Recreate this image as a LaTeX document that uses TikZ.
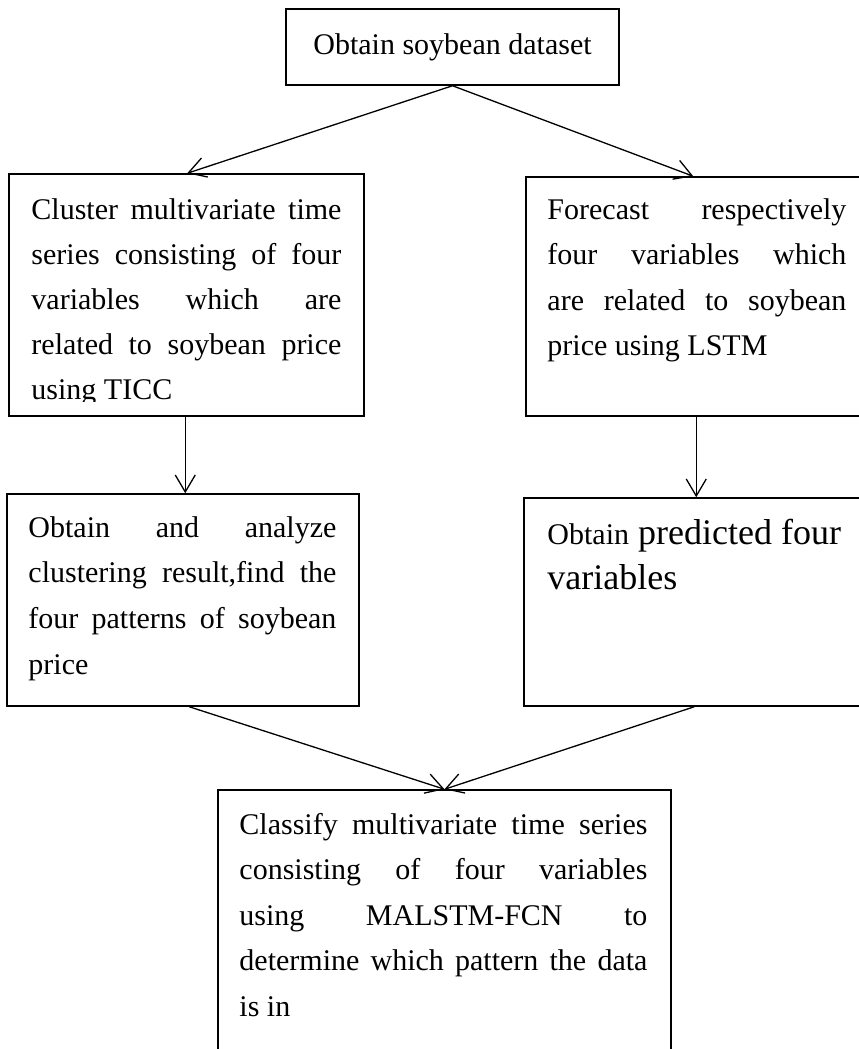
\documentclass[tikz,border=0pt]{standalone}
\usepackage{fontspec}
\setmainfont{Liberation Serif}
\usetikzlibrary{arrows.meta,calc}
\tikzset{
  box/.style={draw=black, line width=1.5pt, rectangle, inner sep=0pt},
  txt/.style={anchor=base west, inner sep=0pt, font=\fontsize{30}{45}\selectfont},
  arr/.style={line width=1.3pt, -{Straight Barb[length=17pt,width=20pt,line width=1.3pt]}}
}
\newcommand{\jl}[2]{\makebox[#1][s]{#2}}
\begin{document}
\begin{tikzpicture}[x=1pt,y=-1pt]
\clip (0,0) rectangle (859,1049);
\fill[white] (0,0) rectangle (859,1049);
% boxes
\node[box, minimum width=333pt, minimum height=76pt] (top) at (452.5,47) {};
\node[box, minimum width=355pt, minimum height=242pt] (L1) at (186.5,295) {};
\node[box, minimum width=349pt, minimum height=239pt] (R1) at (700.5,296.5) {};
\node[box, minimum width=352pt, minimum height=212pt] (L2) at (183,600) {};
\node[box, minimum width=351pt, minimum height=208pt] (R2) at (699.5,602) {};
\node[box, minimum width=453pt, minimum height=280pt] (B) at (444.5,930) {};
% texts
\node[anchor=base, inner sep=0pt, font=\fontsize{30}{45}\selectfont] (ttop) at ($(top.north)+(0,46)$) {Obtain soybean dataset};
\begin{scope}
\clip (L1.north west) rectangle ($(L1.south east)+(0,-15)$);
\node[txt] (tL1) at ($(L1.north west)+(23,46)$) {\parbox[t]{310pt}{\fontsize{30}{45}\selectfont
\jl{310pt}{Cluster multivariate time}\\
\jl{310pt}{series consisting of four}\\
\jl{310pt}{variables which are}\\
\jl{310pt}{related to soybean price}\\
using TICC}};
\end{scope}
\node[txt] (tR1) at ($(R1.north west)+(22,43)$) {\parbox[t]{299pt}{\fontsize{30}{45.5}\selectfont
\jl{299pt}{Forecast respectively}\\
\jl{299pt}{four variables which}\\
\jl{299pt}{are related to soybean}\\
price using LSTM}};
\node[txt] (tL2) at ($(L2.north west)+(22,44)$) {\parbox[t]{308pt}{\fontsize{30}{45.7}\selectfont
\jl{308pt}{Obtain and analyze}\\
\jl{308pt}{clustering result,find the}\\
\jl{308pt}{four patterns of soybean}\\
price}};
\node[txt] (tR2) at ($(R2.north west)+(24,47)$) {\parbox[t]{320pt}{\fontsize{36}{45}\selectfont
{\fontsize{30}{45}\selectfont Obtain} predicted four\\
variables}};
\node[txt] (tB) at ($(B.north west)+(22,45)$) {\parbox[t]{408pt}{\fontsize{30}{45.5}\selectfont
\jl{408pt}{Classify multivariate time series}\\
\jl{408pt}{consisting of four variables}\\
\jl{408pt}{using MALSTM-FCN to}\\
\jl{408pt}{determine which pattern the data}\\
is in}};
% connectors
\draw[arr] (top.south) -- ($(L1.north west)+(179,0)$);
\draw[arr] (top.south) -- ($(R1.north west)+(168,0)$);
\draw[arr] ($(L1.south west)+(177,0)$) -- ($(L2.north west)+(179,0)$);
\draw[arr] ($(R1.south west)+(171,0)$) -- ($(R2.north west)+(173,0)$);
\draw[arr] ($(L2.south west)+(183,0)$) -- (B.north);
\draw[arr] ($(R2.south west)+(171,0)$) -- (B.north);
\end{tikzpicture}
\end{document}
